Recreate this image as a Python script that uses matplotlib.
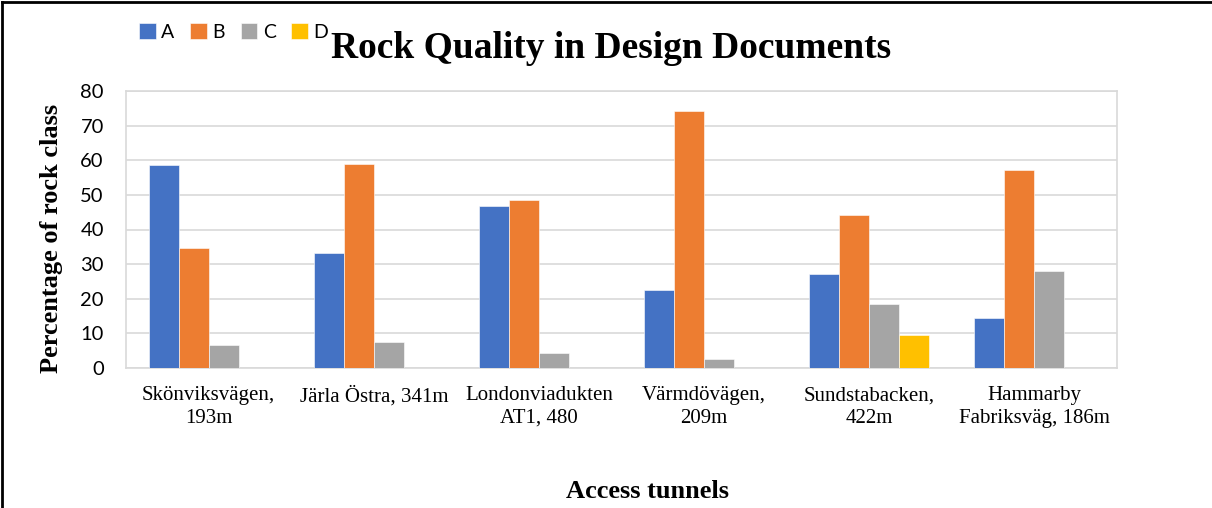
import numpy as np
import matplotlib
matplotlib.use("Agg")
import matplotlib.pyplot as plt
from matplotlib.lines import Line2D

# Rock class shares (%) per access tunnel
tunnels = ["Skönviksvägen,\n193m", "Järla Östra, 341m", "Londonviadukten\nAT1, 480",
           "Värmdövägen,\n209m", "Sundstabacken,\n422m", "Hammarby\nFabriksväg, 186m"]
class_a = [58.5, 33.1, 46.9, 22.6, 27.2, 14.5]
class_b = [34.7, 58.9, 48.4, 74.3, 44.3, 57.1]
class_c = [6.5, 7.6, 4.4, 2.7, 18.5, 28.1]
class_d = [0, 0, 0, 0, 9.4, 0]
series_names = ["A", "B", "C", "D"]
colors = ["#4472C4", "#ED7D31", "#A5A5A5", "#FFC000"]
yticks = [0, 10, 20, 30, 40, 50, 60, 70, 80]

serif = "Liberation Serif"
sans = "Lato"

fig = plt.figure(figsize=(12.12, 5.08), dpi=100)
ax = fig.add_axes([126 / 1212, 1 - 368 / 508, (1117 - 126) / 1212, (368 - 91) / 508])

x = np.arange(len(tunnels))
width = 0.1816
series = [class_a, class_b, class_c, class_d]
handles = []
for i, (vals, name, col) in enumerate(zip(series, series_names, colors)):
    b = ax.bar(x + (i - 1.5) * width, vals, width, color=col, label=name,
               edgecolor="white", linewidth=0.4, zorder=3)
    handles.append(b)

ax.set_xlim(-0.5, len(tunnels) - 0.5)
ax.set_ylim(0, 80)
ax.set_yticks(yticks)
ax.yaxis.grid(True, color="#d9d9d9", linewidth=1.2, zorder=0)
ax.set_axisbelow(True)
for s in ax.spines.values():
    s.set_color("#d9d9d9")
    s.set_linewidth(1.2)
ax.tick_params(axis="both", length=0)
ax.tick_params(axis="y", pad=16)
ax.tick_params(axis="x", pad=13)
ax.set_xticks(x)
ax.set_xticklabels(tunnels, fontfamily=serif, fontsize=15, linespacing=1.25)
for lbl in ax.get_yticklabels():
    lbl.set_fontfamily(sans)
    lbl.set_fontsize(14.5)

fig.text(52 / 1212, 1 - 238 / 508, "Percentage of rock class", fontfamily=serif,
         fontsize=19, fontweight="bold", rotation=90, ha="center", va="center")
fig.text(648 / 1212, 1 - 491 / 508, "Access tunnels", fontfamily=serif, fontsize=19,
         fontweight="bold", ha="center", va="center")
fig.text(611 / 1212, 1 - 48 / 508, "Rock Quality in Design Documents", fontfamily=serif,
         fontsize=27, fontweight="bold", ha="center", va="center")

leg = fig.legend(handles=handles, labels=series_names, loc="center left",
                 bbox_to_anchor=(139 / 1212, 1 - 32 / 508), ncol=4, frameon=False,
                 handlelength=0.85, handleheight=0.85, handletextpad=0.3,
                 columnspacing=0.8, borderpad=0, borderaxespad=0,
                 prop={"family": sans, "size": 14})

# outer frame edges
fig.add_artist(Line2D([2 / 1212, 2 / 1212], [0, 1 - 2 / 508], transform=fig.transFigure,
                      color="black", linewidth=2))
fig.add_artist(Line2D([2 / 1212, 1], [1 - 2 / 508, 1 - 2 / 508], transform=fig.transFigure,
                      color="black", linewidth=2))

fig.savefig("out.png", dpi=100, facecolor="white")
